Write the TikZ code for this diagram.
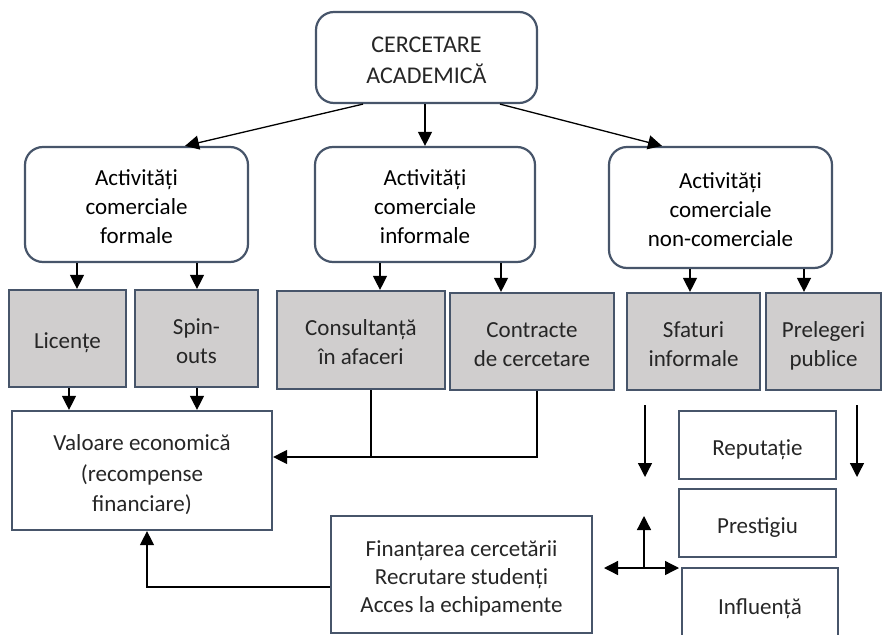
\documentclass[tikz,border=0pt]{standalone}
\usepackage{fontspec}
\setmainfont{Carlito}
\usetikzlibrary{arrows.meta}

\definecolor{edge}{RGB}{71,85,106}
\definecolor{boxgray}{RGB}{208,206,206}
\definecolor{txt}{RGB}{38,38,38}

% centred lines, set a little below the middle of their box
\newcommand\boxlines[1]{\raisebox{-4.5pt}[\height][\depth]{\begin{tabular}{@{}c@{}}#1\end{tabular}}}

\tikzset{
  base/.style={draw=edge, line width=2.2pt, inner sep=0pt,
               font=\fontsize{23}{29}\selectfont, text=txt},
  rbox/.style={base, rounded corners=18pt, fill=white},
  actbox/.style={rbox, text=black},
  gbox/.style={base, fill=boxgray},
  wbox/.style={base, fill=white},
  tip/.tip={Triangle[width=14pt,length=14pt]},
  arr/.style={line width=1.3pt, -tip},
  ln/.style={line width=1.3pt}
}

\begin{document}
\begin{tikzpicture}[x=1pt,y=-1pt]
\useasboundingbox (0,0) rectangle (882,634);
\clip (0,0) rectangle (882,634);

% root
\node[rbox, minimum width=221pt, minimum height=91pt, font=\fontsize{24}{31}\selectfont]
  (top) at (426.5,57.5) {\boxlines{CERCETARE\\ACADEMICĂ}};

% three activity groups
\node[actbox, minimum width=223pt, minimum height=115pt] (formal) at (136.5,204.5)
  {\boxlines{Activități\\comerciale\\formale}};
\node[actbox, minimum width=220pt, minimum height=115pt] (informal) at (425,204.5)
  {\boxlines{Activități\\comerciale\\informale}};
\node[actbox, minimum width=223pt, minimum height=121pt] (noncom) at (720.5,207.5)
  {\boxlines{Activități\\comerciale\\non-comerciale}};

% concrete activities
\node[gbox, minimum width=117pt, minimum height=97pt] (lic) at (67.5,338.5) {\boxlines{Licențe}};
\node[gbox, minimum width=123pt, minimum height=97pt] (spin) at (196.5,338.5) {\boxlines{Spin-\\outs}};
\node[gbox, minimum width=168pt, minimum height=98pt] (cons) at (361,340) {\boxlines{Consultanță\\în afaceri}};
\node[gbox, minimum width=164pt, minimum height=97pt] (contr) at (532,341.5) {\boxlines{Contracte\\de cercetare}};
\node[gbox, minimum width=133pt, minimum height=97pt] (sfat) at (693.5,341.5) {\boxlines{Sfaturi\\informale}};
\node[gbox, minimum width=115pt, minimum height=97pt] (prel) at (823.5,341.5) {\boxlines{Prelegeri\\publice}};

% outcomes
\node[wbox, minimum width=260pt, minimum height=119pt, font=\fontsize{23}{30.5}\selectfont]
  (value) at (142,470.5) {\boxlines{Valoare economică\\(recompense\\financiare)}};
\node[wbox, minimum width=261pt, minimum height=117pt, font=\fontsize{23}{28}\selectfont]
  (fin) at (461.5,574.5) {\boxlines{Finanțarea cercetării\\Recrutare studenți\\Acces la echipamente}};
\node[wbox, minimum width=157pt, minimum height=68pt] (rep) at (757.5,445) {\boxlines{Reputație}};
\node[wbox, minimum width=157pt, minimum height=68pt] (pres) at (757.5,523) {\boxlines{Prestigiu}};
\node[wbox, minimum width=156pt, minimum height=72pt] (infl) at (760,604) {\boxlines{Influență}};

% root to groups
\draw[arr] ([xshift=-63.5pt]top.south) -- ([xshift=48.5pt]formal.north);
\draw[arr] ([xshift=-1.5pt]top.south) -- (informal.north);
\draw[arr] ([xshift=73.5pt]top.south) -- ([xshift=-58.5pt]noncom.north);

% groups to activities
\draw[arr] ([xshift=-59.5pt]formal.south) -- ([xshift=-59.5pt]formal.south |- lic.north);
\draw[arr] ([xshift=60.5pt]formal.south) -- ([xshift=60.5pt]formal.south |- spin.north);
\draw[arr] ([xshift=-45pt]informal.south) -- ([xshift=-45pt]informal.south |- cons.north);
\draw[arr] ([xshift=76pt]informal.south) -- ([xshift=76pt]informal.south |- contr.north);
\draw[arr] ([xshift=-30.5pt]noncom.south) -- ([xshift=-30.5pt]noncom.south |- sfat.north);
\draw[arr] ([xshift=83.5pt]noncom.south) -- ([xshift=83.5pt]noncom.south |- prel.north);

% formal activities to economic value
\draw[arr] ([xshift=1.5pt]lic.south) -- ([xshift=1.5pt]lic.south |- value.north);
\draw[arr] ([xshift=0.5pt]spin.south) -- ([xshift=0.5pt]spin.south |- value.north);

% informal activities join into one arrow
\coordinate (bus) at ([yshift=13.5pt]value.east);
\draw[ln] ([xshift=10pt]cons.south) -- ([xshift=10pt]cons.south |- bus);
\draw[arr] ([xshift=5pt]contr.south) |- (bus);

% funding back to economic value
\draw[arr] ([yshift=-12.5pt]fin.west) -| ([xshift=5pt]value.south);

% free arrows beside the reputation column
\coordinate (sa) at (645,405);
\coordinate (sb) at (645,477);
\coordinate (pa) at (857,405);
\coordinate (pb) at (857,477);
\draw[arr] (sa) -- (sb);
\draw[arr] (pa) -- (pb);

\coordinate (cx) at (644,568);
\coordinate (cup) at (644,516);
\coordinate (cl) at (604,568);
\coordinate (cr) at (679,568);
\draw[arr] (cx) -- (cup);
\draw[line width=1.3pt, tip-tip] (cl) -- (cr);
\end{tikzpicture}
\end{document}
